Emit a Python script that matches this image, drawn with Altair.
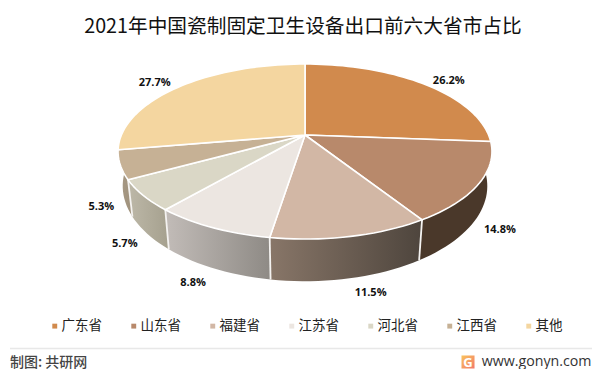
import math
import altair as alt
import pandas as pd

PROVINCES = ["广东省", "山东省", "福建省", "江苏省", "河北省", "江西省", "其他"]
SHARES = [26.2, 14.8, 11.5, 8.8, 5.7, 5.3, 27.7]
TOP_COLORS = ["#d18a4d", "#b8896b", "#d2b7a5", "#ece6e1", "#dad7c6", "#c6b195", "#f4d6a0"]
WALL_GRADIENTS = [
    None,
    ("#4a382a", "#4a382a"),
    ("#887668", "#4e453d"),
    ("#c2bcb8", "#8e8a85"),
    ("#bdb8a8", "#a5a08e"),
    ("#a89a85", "#9a8d78"),
    None,
]
LABEL_NUDGE_X = [12, -3, 13, -5, 4, 5, -12]
LABEL_NUDGE_Y = [2, -5, -4, -3, -5, -7, 1.5]

# pie geometry (page pixels)
CX, CY, R, S, K = 305.0, 135.0, 183.6, 84.4, 0.189
WALL_DY, WALL_FX, WALL_FY = 33.0, 0.975, 1.088
PAD_TOP = 36
X_DOMAIN = [8, 592]
Y_DOMAIN = [8 + PAD_TOP, 369]
PW, PH = X_DOMAIN[1] - X_DOMAIN[0], Y_DOMAIN[1] - Y_DOMAIN[0]


def project(theta_deg, r=1.0):
    t = math.radians(theta_deg)
    u, v = r * math.sin(t), r * math.cos(t)
    d = 1 + K * v
    return CX + R * u / d, CY - S * v / d


def bottom(theta_deg):
    x, y = project(theta_deg)
    return CX + WALL_FX * (x - CX), CY + WALL_DY + WALL_FY * (y - CY)


cum = [0.0]
for s in SHARES:
    cum.append(cum[-1] + s)
tot = cum[-1]
angles = [c / tot * 360 for c in cum]

top_rows = []
for i, name in enumerate(PROVINCES):
    a0, a1 = angles[i], angles[i + 1]
    n = max(8, int((a1 - a0) / 2))
    pts = [(CX, CY)] + [project(a0 + (a1 - a0) * j / n) for j in range(n + 1)] + [(CX, CY)]
    for o, (x, y) in enumerate(pts):
        top_rows.append({"name": name, "x": x, "y": y, "o": o})
top_df = pd.DataFrame(top_rows)

xs = alt.X("x:Q", axis=None, scale=alt.Scale(domain=X_DOMAIN, range=[0, PW], nice=False, zero=False))
ys = alt.Y("y:Q", axis=None, scale=alt.Scale(domain=Y_DOMAIN, range=[0, PH], nice=False, zero=False))

layers = []
sep_rows = []
for i, grad in enumerate(WALL_GRADIENTS):
    if grad is None:
        continue
    a0, a1 = angles[i], angles[i + 1]
    lo = 75 if i == 1 else a0
    hi = 285 if i == 5 else a1
    n = max(8, int((hi - lo) / 2))
    ths = [lo + (hi - lo) * j / n for j in range(n + 1)]
    pts = [project(t) for t in ths] + [bottom(t) for t in reversed(ths)]
    df = pd.DataFrame({"x": [p[0] for p in pts], "y": [p[1] for p in pts], "o": list(range(len(pts)))})
    layers.append(
        alt.Chart(df).mark_line(
            filled=True,
            strokeWidth=0,
            color=alt.Gradient(
                gradient="linear", x1=0, x2=1, y1=0, y2=0,
                stops=[alt.GradientStop(color=grad[0], offset=0), alt.GradientStop(color=grad[1], offset=1)],
            ),
        ).encode(x=xs, y=ys, order="o:Q")
    )
    if i >= 2:
        for o, p in enumerate([project(a0), bottom(a0)]):
            sep_rows.append({"b": i, "x": p[0], "y": p[1], "o": o})

layers.append(
    alt.Chart(pd.DataFrame(sep_rows)).mark_line(color="#f4f2f0", strokeWidth=1.8).encode(
        x=xs, y=ys, order="o:Q", detail="b:N"
    )
)

layers.append(
    alt.Chart(top_df).mark_line(filled=True, stroke="white", strokeWidth=1.6, strokeJoin="round").encode(
        x=xs, y=ys, order="o:Q",
        fill=alt.Fill(
            "name:N",
            scale=alt.Scale(domain=PROVINCES, range=TOP_COLORS),
            legend=alt.Legend(
                title=None, orient="none", legendX=40, legendY=275, direction="horizontal", columns=7,
                symbolType="square", symbolSize=24, symbolStrokeWidth=0, labelFont="Noto Sans CJK SC",
                labelFontSize=13.5, labelColor="#222222", columnPadding=25, labelOffset=0, padding=0,
            ),
        ),
    )
)

label_rows = []
for i, name in enumerate(PROVINCES):
    mid = (angles[i] + angles[i + 1]) / 2
    x, y = project(mid, 1.12)
    if math.cos(math.radians(mid)) < 0:
        y += 45
    label_rows.append({
        "x": x + LABEL_NUDGE_X[i], "y": y + LABEL_NUDGE_Y[i], "t": f"{SHARES[i]}%"
    })
layers.append(
    alt.Chart(pd.DataFrame(label_rows)).mark_text(
        font="Open Sans", fontSize=11, fontWeight="bold", color="#111111"
    ).encode(x=xs, y=ys, text="t:N")
)

# footer
layers.append(
    alt.Chart(pd.DataFrame({"x": [10], "x2": [592], "y": [348.5]})).mark_rule(color="#e8e8e8", strokeWidth=1.5).encode(
        x=xs, x2="x2:Q", y=ys
    )
)
layers.append(
    alt.Chart(pd.DataFrame({"x": [10], "y": [362.5], "t": ["制图: 共研网"]})).mark_text(
        font="Noto Sans CJK SC", fontSize=14, fontWeight=500, align="left", color="#444444"
    ).encode(x=xs, y=ys, text="t:N")
)
layers.append(
    alt.Chart(pd.DataFrame({"x": [468], "y": [362]})).mark_point(
        shape="square", filled=True, size=170, opacity=1,
        color=alt.Gradient(
            gradient="linear", x1=0, x2=1, y1=0, y2=1,
            stops=[alt.GradientStop(color="#f9c35c", offset=0), alt.GradientStop(color="#f2796b", offset=1)],
        ),
    ).encode(x=xs, y=ys)
)
layers.append(
    alt.Chart(pd.DataFrame({"x": [468], "y": [362.5], "t": ["G"]})).mark_text(
        font="Open Sans", fontSize=13, fontWeight="bold", color="white"
    ).encode(x=xs, y=ys, text="t:N")
)
layers.append(
    alt.Chart(pd.DataFrame({"x": [591.5], "y": [362], "t": ["www.gonyn.com"]})).mark_text(
        font="Open Sans", fontSize=14.2, align="right", color="#333333"
    ).encode(x=xs, y=ys, text="t:N")
)

chart = alt.layer(*layers).properties(
    width=PW, height=PH,
    autosize=alt.AutoSizeParams(type="none"),
    padding={"left": 0, "right": 0, "top": PAD_TOP, "bottom": 0},
    background="white",
    title=alt.TitleParams(
        "2021年中国瓷制固定卫生设备出口前六大省市占比",
        font="Noto Sans CJK SC", fontSize=19.7, fontWeight="normal", color="#111111",
        anchor="middle", offset=7, dx=3,
    ),
).configure_view(stroke=None)

chart.save("out.html", embed_options={"renderer": "svg", "actions": False})
